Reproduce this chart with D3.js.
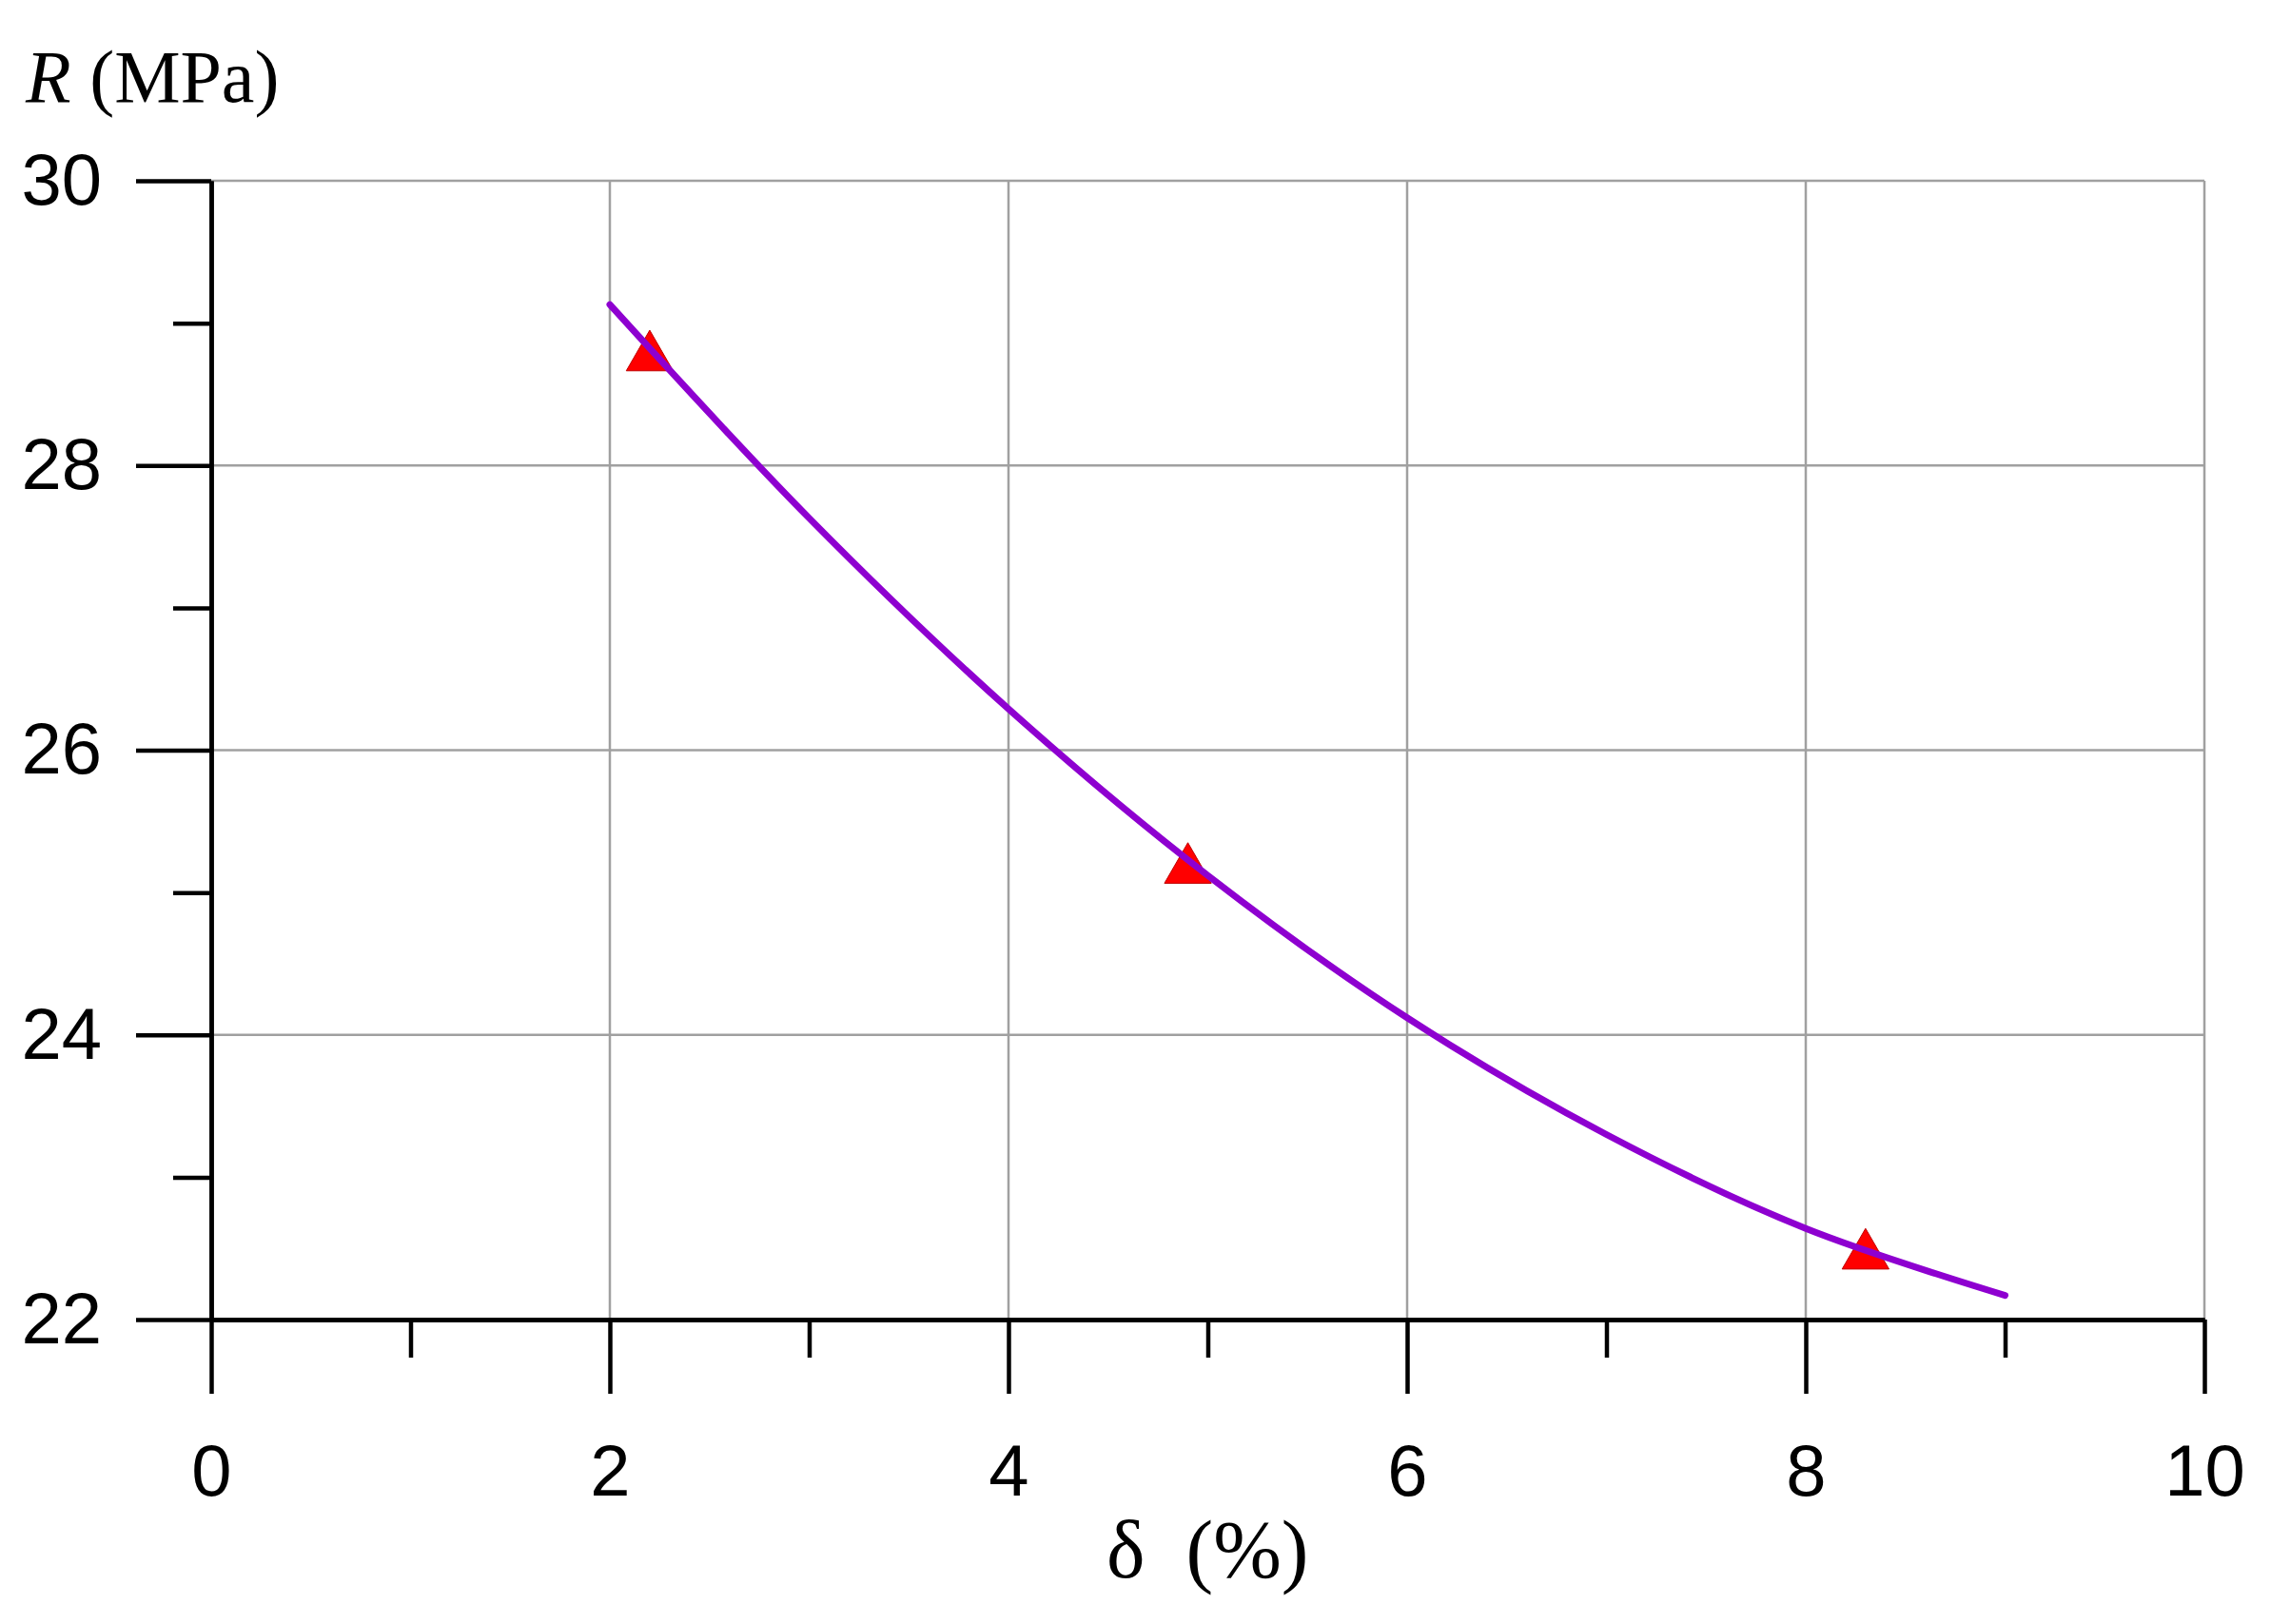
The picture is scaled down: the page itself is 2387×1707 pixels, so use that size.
<!DOCTYPE html>
<html>
<head>
<meta charset="utf-8">
<script src="https://cdn.jsdelivr.net/npm/d3@7"></script>
<style>
  body { margin: 0; background: #fff; }
  svg { display: block; }
  .tick text { font-family: "Liberation Sans", Arial, sans-serif; font-size: 76px; fill: #000; }
  .axis path, .axis line { stroke: #000; stroke-width: 4.5px; }
  .grid line { stroke: #a0a0a0; stroke-width: 2.5px; }
  .label { font-family: "Liberation Serif", "Times New Roman", serif; fill: #000; white-space: pre; }
</style>
</head>
<body>
<svg class="chart"></svg>
<script>
// measured points (triangles)
var pointX = [2.2, 4.9, 8.3];
var pointR = [28.76, 25.16, 22.45];

// fitted curve
var curveX = [2, 3, 4, 5, 6, 7, 8, 9];
var curveR = [29.13, 27.63, 26.29, 25.12, 24.12, 23.30, 22.64, 22.17];

var xMajor = [0, 2, 4, 6, 8, 10];
var xMinor = [1, 3, 5, 7, 9];
var yMajor = [22, 24, 26, 28, 30];
var yMinor = [23, 25, 27, 29];

var width = 2387;
var height = 1707;

var svg = d3.select(".chart").attr("width", width).attr("height", height);

var x = d3.scaleLinear().domain([0, 10]).range([222, 2317]);
var y = d3.scaleLinear().domain([22, 30]).range([1387, 190]);

// grid
var grid = svg.append("g").attr("class", "grid");
grid.selectAll(".gx").data(xMajor.slice(1)).enter().append("line")
    .attr("x1", function(d) { return x(d); }).attr("x2", function(d) { return x(d); })
    .attr("y1", y(22)).attr("y2", y(30));
grid.selectAll(".gy").data(yMajor.slice(1)).enter().append("line")
    .attr("y1", function(d) { return y(d); }).attr("y2", function(d) { return y(d); })
    .attr("x1", x(0)).attr("x2", x(10));

// axes
svg.append("g").attr("class", "axis")
    .attr("transform", "translate(0," + y(22) + ")")
    .call(d3.axisBottom(x).tickValues(xMinor).tickSize(40).tickSizeOuter(0).tickFormat(""));
svg.append("g").attr("class", "axis")
    .attr("transform", "translate(0," + y(22) + ")")
    .call(d3.axisBottom(x).tickValues(xMajor).tickSize(78).tickSizeOuter(0).tickPadding(53));

svg.append("g").attr("class", "axis")
    .attr("transform", "translate(" + x(0) + ",0)")
    .call(d3.axisLeft(y).tickValues(yMinor).tickSize(40).tickSizeOuter(0).tickFormat(""));
svg.append("g").attr("class", "axis")
    .attr("transform", "translate(" + x(0) + ",0)")
    .call(d3.axisLeft(y).tickValues(yMajor).tickSize(79).tickSizeOuter(0).tickPadding(36));

// triangles first, curve drawn over them
var pts = pointX.map(function(d, i) { return [d, pointR[i]]; });
svg.selectAll(".pt").data(pts).enter().append("path")
    .attr("class", "pt")
    .attr("d", d3.symbol(d3.symbolTriangle, 1050))
    .attr("transform", function(d) { return "translate(" + x(d[0]) + "," + y(d[1]) + ")"; })
    .attr("fill", "#ff0000")
    .attr("stroke", "#c00000")
    .attr("stroke-width", 1);

var line = d3.line()
    .x(function(d) { return x(d[0]); })
    .y(function(d) { return y(d[1]); })
    .curve(d3.curveCatmullRom);

svg.append("path")
    .datum(curveX.map(function(d, i) { return [d, curveR[i]]; }))
    .attr("d", line)
    .attr("fill", "none")
    .attr("stroke", "#8e00d0")
    .attr("stroke-width", 7)
    .attr("stroke-linecap", "round");

// axis titles
var yt = svg.append("text").attr("class", "label")
    .attr("x", 27).attr("y", 107).style("font-size", "78px");
yt.append("tspan").style("font-style", "italic").text("R");
yt.append("tspan").text(" (MPa)");

svg.append("text").attr("class", "label")
    .attr("x", 1163).attr("y", 1658).style("font-size", "86px")
    .text("δ  (%)");
</script>
</body>
</html>
